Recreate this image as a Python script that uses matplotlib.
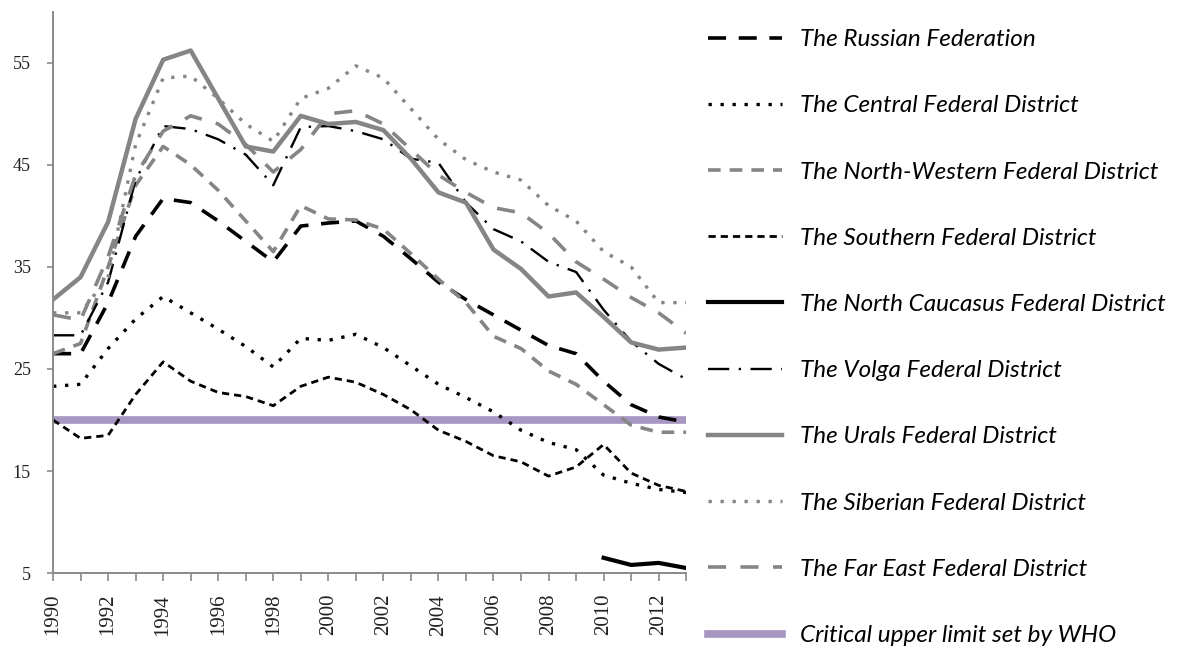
import numpy as np
import matplotlib.pyplot as plt

years = np.arange(1990, 2014)

russia = [26.5, 26.5, 31.5, 38.0, 41.7, 41.3, 39.5, 37.5, 35.5, 39.0, 39.3, 39.5,
          38.0, 35.8, 33.5, 31.8, 30.3, 28.8, 27.3, 26.5, 23.8, 21.5, 20.3, 19.8]
central = [23.3, 23.5, 27.0, 29.9, 32.1, 30.5, 28.9, 27.2, 25.2, 28.0, 27.8, 28.4,
           27.1, 25.3, 23.5, 22.2, 20.8, 19.0, 17.8, 17.1, 14.6, 13.8, 13.2, 12.9]
north_western = [26.5, 27.5, 35.0, 43.0, 46.8, 45.0, 42.5, 39.5, 36.5, 41.0, 39.7, 39.6,
                 38.7, 36.3, 33.8, 31.5, 28.2, 27.0, 24.8, 23.5, 21.5, 19.5, 18.8, 18.8]
southern = [20.0, 18.2, 18.5, 22.5, 25.7, 23.8, 22.7, 22.3, 21.4, 23.3, 24.2, 23.7,
            22.5, 21.0, 19.0, 17.9, 16.5, 15.9, 14.5, 15.4, 17.6, 14.8, 13.6, 13.0]
north_caucasus = [np.nan] * 20 + [6.5, 5.8, 6.0, 5.5]
volga = [28.3, 28.3, 33.5, 43.5, 48.8, 48.5, 47.5, 46.0, 43.0, 48.7, 48.8, 48.3,
         47.5, 45.6, 45.2, 41.3, 38.7, 37.5, 35.5, 34.5, 30.8, 27.7, 25.5, 24.0]
urals = [31.8, 34.0, 39.4, 49.5, 55.3, 56.2, 51.5, 46.8, 46.3, 49.8, 49.0, 49.2,
         48.4, 45.6, 42.3, 41.3, 36.7, 34.8, 32.1, 32.5, 30.1, 27.6, 26.9, 27.1]
siberian = [30.5, 30.5, 34.0, 47.0, 53.5, 53.7, 51.5, 49.0, 47.3, 51.5, 52.5, 54.7,
            53.5, 50.5, 47.5, 45.5, 44.3, 43.5, 41.0, 39.5, 36.5, 35.0, 31.5, 31.5]
far_east = [30.3, 29.8, 36.0, 44.0, 48.3, 49.8, 49.0, 47.0, 44.3, 46.5, 50.0, 50.3,
            49.0, 46.5, 44.0, 42.3, 40.8, 40.3, 38.3, 35.5, 33.8, 32.0, 30.5, 28.5]
who_limit = 20

labels = ['The Russian Federation', 'The Central Federal District',
          'The North-Western Federal District', 'The Southern Federal District',
          'The North Caucasus Federal District', 'The Volga Federal District',
          'The Urals Federal District', 'The Siberian Federal District',
          'The Far East Federal District', 'Critical upper limit set by WHO']

gray = '#858585'
black = '#000000'
purple = '#a596c2'

fig = plt.figure(figsize=(11.79, 6.52), dpi=100)
ax = fig.add_axes([0.045, 0.121, 0.537, 0.861])

h = []
h += ax.plot(years, russia, color=black, lw=2.6, dashes=(5, 3.5))
h += ax.plot(years, central, color=black, lw=2.4, dashes=(1, 2.6))
h += ax.plot(years, north_western, color=gray, lw=2.6, dashes=(3.5, 2.5))
h += ax.plot(years, southern, color=black, lw=2.0, dashes=(2.6, 1.8))
h += ax.plot(years, north_caucasus, color=black, lw=3.0)
h += ax.plot(years, volga, color=black, lw=1.7, dashes=(9, 4, 1, 4))
h += ax.plot(years, urals, color=gray, lw=3.2)
h += ax.plot(years, siberian, color=gray, lw=2.4, dashes=(1, 2.6))
h += ax.plot(years, far_east, color=gray, lw=2.6, dashes=(5, 4))
h.append(ax.axhline(who_limit, color=purple, lw=5.5, zorder=1))

ax.set_xlim(1990, 2013)
ax.set_ylim(5, 60)
ax.set_yticks([5, 15, 25, 35, 45, 55])
ax.set_xticks(years, minor=True)
ax.set_xticks(np.arange(1990, 2013, 2))
ax.set_xticklabels([str(y) for y in range(1990, 2013, 2)], rotation=90)

for s in ['top', 'right']:
    ax.spines[s].set_visible(False)
for s in ['left', 'bottom']:
    ax.spines[s].set_color('#8a8a8a')
    ax.spines[s].set_linewidth(1.4)
ax.tick_params(axis='both', which='both', color='#8a8a8a', width=1.2,
               labelcolor='#222222')
ax.tick_params(axis='x', which='both', length=6, labelsize=15, pad=9)
ax.tick_params(axis='y', length=4, labelsize=13, pad=12)
for t in ax.get_xticklabels() + ax.get_yticklabels():
    t.set_fontfamily('Liberation Serif')

fig.legend(h, labels, loc='upper left', bbox_to_anchor=(0.582, 0.989),
           frameon=False, handlelength=3.05, handletextpad=0.75,
           labelspacing=1.86, prop={'family': 'Lato', 'style': 'italic', 'size': 17.5})

fig.savefig('out.png', dpi=100)
